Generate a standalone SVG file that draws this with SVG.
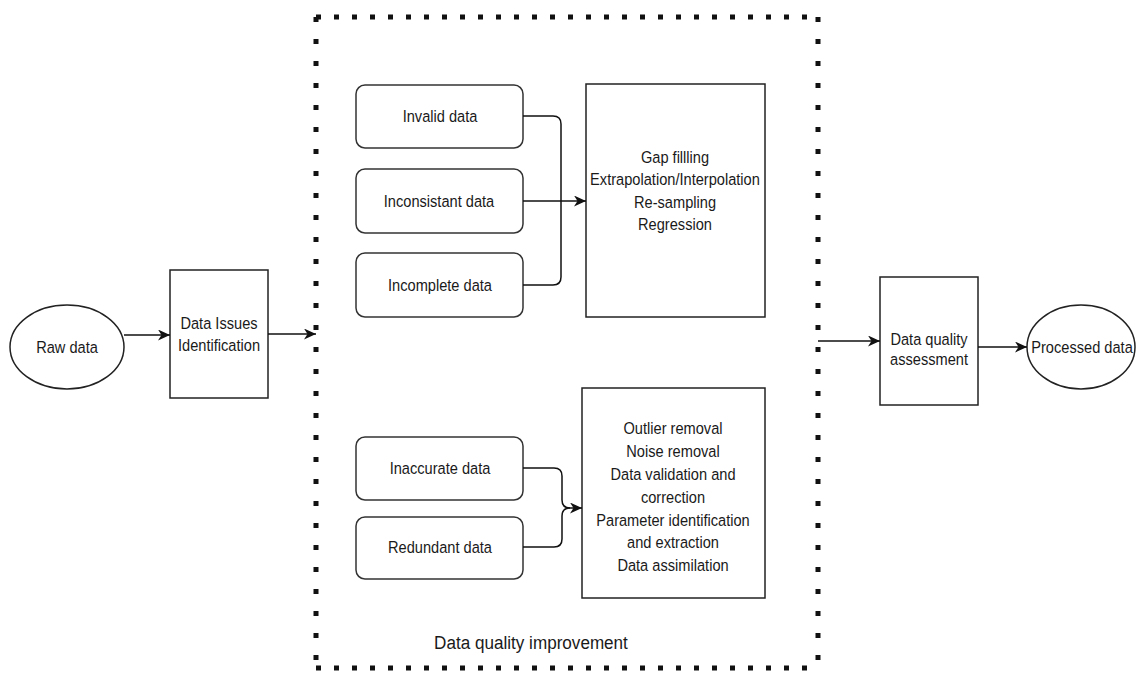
<svg xmlns="http://www.w3.org/2000/svg" width="1137" height="674" viewBox="0 0 1137 674">
<style>
text{font-family:"Liberation Sans",Arial,sans-serif;font-size:17px;fill:#1a1a1a;text-anchor:middle}
.box{fill:#fff;stroke:#222;stroke-width:1.5}
.rbox{fill:#fff;stroke:#333;stroke-width:1.5}
.edge{fill:none;stroke:#111;stroke-width:1.5}
.dot{fill:none;stroke:#111;stroke-width:5}
.big{font-size:19px}
</style>
<defs>
<marker id="arr" markerWidth="13" markerHeight="11" refX="12" refY="5.5" orient="auto" markerUnits="userSpaceOnUse">
<path d="M0,0 L12,5.5 L0,11 L3.5,5.5 Z" fill="#111"/>
</marker>
</defs>
<g id="container">
<line class="dot" x1="316" y1="17" x2="820" y2="17" stroke-dasharray="5 13"/>
<line class="dot" x1="316" y1="668" x2="820" y2="668" stroke-dasharray="5 13"/>
<line class="dot" x1="316" y1="17" x2="316" y2="670" stroke-dasharray="5 17"/>
<line class="dot" x1="818" y1="17" x2="818" y2="670" stroke-dasharray="5 17"/>
<text class="big" transform="translate(531,649) scale(0.9,1)">Data quality improvement</text>
</g>
<g id="raw-data">
<ellipse class="box" cx="67" cy="347" rx="57" ry="42"/>
<text transform="translate(67,353) scale(0.86,1)">Raw data</text>
</g>
<g id="data-issues">
<rect class="box" x="170" y="270" width="98" height="128"/>
<text transform="translate(219,329) scale(0.86,1)">Data Issues</text>
<text transform="translate(219,351) scale(0.86,1)">Identification</text>
</g>
<g id="invalid">
<rect class="rbox" x="356" y="85" width="167" height="63" rx="9"/>
<text transform="translate(440,122) scale(0.86,1)">Invalid data</text>
</g>
<g id="inconsistant">
<rect class="rbox" x="356" y="169" width="167" height="64" rx="9"/>
<text transform="translate(439,207) scale(0.86,1)">Inconsistant data</text>
</g>
<g id="incomplete">
<rect class="rbox" x="356" y="253" width="167" height="64" rx="9"/>
<text transform="translate(440,291) scale(0.86,1)">Incomplete data</text>
</g>
<g id="methods-top">
<rect class="box" x="586" y="84" width="179" height="233"/>
<text transform="translate(675,163) scale(0.86,1)">Gap fillling</text>
<text transform="translate(675,185) scale(0.86,1)">Extrapolation/Interpolation</text>
<text transform="translate(675,208) scale(0.86,1)">Re-sampling</text>
<text transform="translate(675,230) scale(0.86,1)">Regression</text>
</g>
<g id="inaccurate">
<rect class="rbox" x="356" y="437" width="167" height="63" rx="9"/>
<text transform="translate(440,474) scale(0.86,1)">Inaccurate data</text>
</g>
<g id="redundant">
<rect class="rbox" x="356" y="517" width="167" height="62" rx="9"/>
<text transform="translate(440,553) scale(0.86,1)">Redundant data</text>
</g>
<g id="methods-bottom">
<rect class="box" x="582" y="388" width="183" height="210"/>
<text transform="translate(673,434) scale(0.86,1)">Outlier removal</text>
<text transform="translate(673,457) scale(0.86,1)">Noise removal</text>
<text transform="translate(673,480) scale(0.86,1)">Data validation and</text>
<text transform="translate(673,503) scale(0.86,1)">correction</text>
<text transform="translate(673,526) scale(0.86,1)">Parameter identification</text>
<text transform="translate(673,548) scale(0.86,1)">and extraction</text>
<text transform="translate(673,571) scale(0.86,1)">Data assimilation</text>
</g>
<g id="dqa">
<rect class="box" x="880" y="277" width="98" height="128"/>
<text transform="translate(929,345) scale(0.86,1)">Data quality</text>
<text transform="translate(929,365) scale(0.86,1)">assessment</text>
</g>
<g id="processed">
<ellipse class="box" cx="1081" cy="347" rx="54" ry="42"/>
<text transform="translate(1082,353) scale(0.86,1)">Processed data</text>
</g>
<g id="connectors">
<path class="edge" d="M124,335 H170" marker-end="url(#arr)"/>
<path class="edge" d="M268,334 H316" marker-end="url(#arr)"/>
<path class="edge" d="M523,116 H553 Q561,116 561,124 V201"/>
<path class="edge" d="M523,285 H553 Q561,285 561,277 V201"/>
<path class="edge" d="M523,201 H586" marker-end="url(#arr)"/>
<path class="edge" d="M523,468 H554 Q562,468 562,476 V500 Q562,508 570,508"/>
<path class="edge" d="M523,547 H554 Q562,547 562,539 V516 Q562,508 570,508 H582" marker-end="url(#arr)"/>
<path class="edge" d="M818,341 H880" marker-end="url(#arr)"/>
<path class="edge" d="M978,347 H1027" marker-end="url(#arr)"/>
</g>
</svg>
